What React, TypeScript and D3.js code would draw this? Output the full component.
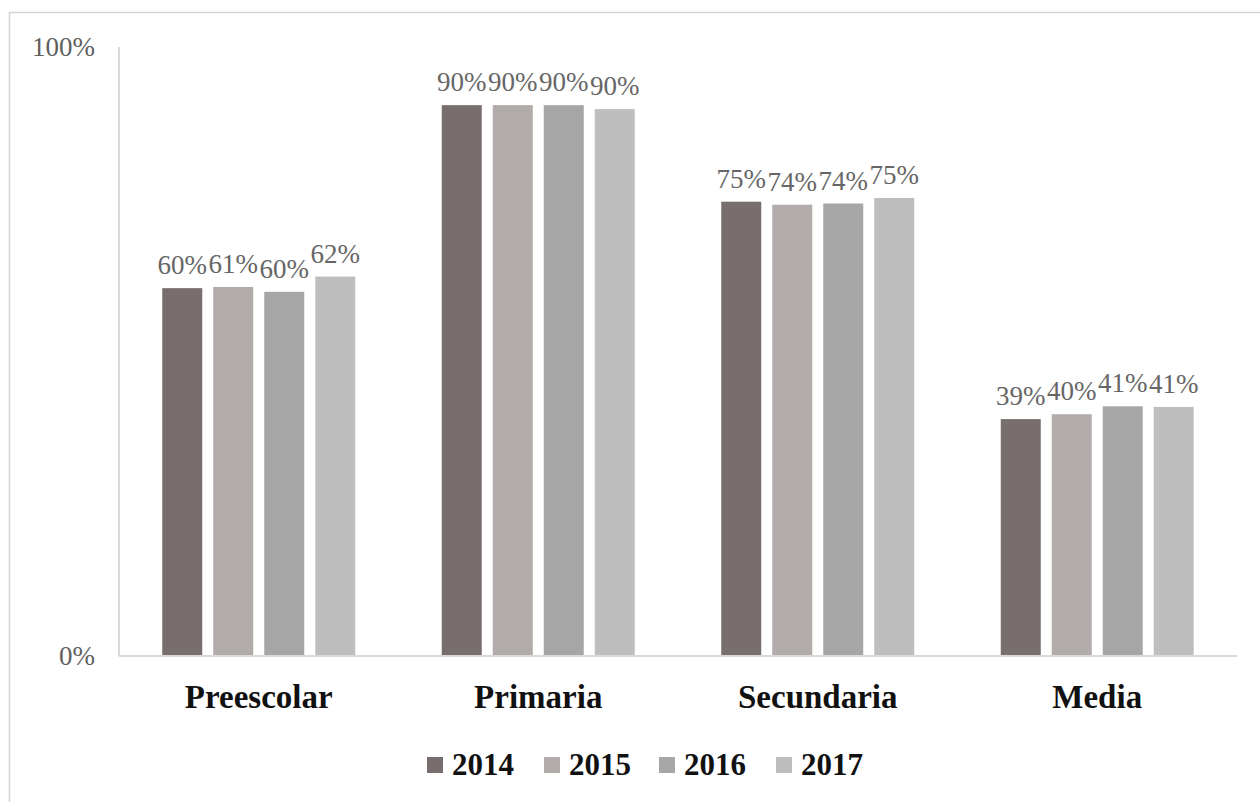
import React from "react";
import * as d3 from "d3";

const categories = ["Preescolar", "Primaria", "Secundaria", "Media"];
const years = ["2014", "2015", "2016", "2017"];
const values2014 = [0.604, 0.9045, 0.746, 0.389];
const values2015 = [0.606, 0.9045, 0.741, 0.397];
const values2016 = [0.598, 0.9045, 0.743, 0.41];
const values2017 = [0.623, 0.898, 0.752, 0.409];
const yTicks = [0, 1];
const colors = ["#786e6e", "#b1aba9", "#a6a6a6", "#bebebe"];

const seriesValues = [values2014, values2015, values2016, values2017];

const W = 1260;
const H = 802;
const left = 119;
const right = 1237;
const top = 47;
const bottom = 656;
const serif = "'Liberation Serif', 'Times New Roman', serif";

export default function App() {
  const x0 = d3
    .scaleBand<string>()
    .domain(categories)
    .range([left, right])
    .paddingInner(0.3095)
    .paddingOuter(0.3095 / 2);
  const x1 = d3
    .scaleBand<string>()
    .domain(years)
    .range([0, x0.bandwidth()])
    .paddingInner(0.2157)
    .paddingOuter(0);
  const y = d3.scaleLinear().domain([0, 1]).range([bottom, top]);
  const pct = d3.format(".0%");

  const legendX = [427, 544, 659, 776];

  return (
    <svg
      width={W}
      height={H}
      style={{ position: "absolute", left: 0, top: 0, background: "#fff" }}
    >
      <rect x={9.5} y={12.5} width={1400} height={1000} fill="#fff" stroke="#d4d4d4" strokeWidth={1.5} />

      {/* value axis */}
      <line x1={left} x2={left} y1={y(1)} y2={y(0)} stroke="#d9d9d9" strokeWidth={2} />
      {yTicks.map((t) => (
        <text
          key={t}
          x={95}
          y={y(t)}
          dy="0.35em"
          textAnchor="end"
          fontFamily={serif}
          fontSize={27}
          fill="#5f5f5f"
        >
          {pct(t)}
        </text>
      ))}

      {/* bars */}
      {categories.map((c, ci) => (
        <g key={c} transform={`translate(${x0(c)},0)`}>
          {years.map((yr, si) => {
            const v = seriesValues[si][ci];
            const bx = x1(yr)!;
            return (
              <g key={yr}>
                <rect
                  x={bx}
                  y={y(v)}
                  width={x1.bandwidth()}
                  height={y(0) - y(v)}
                  fill={colors[si]}
                />
                <text
                  x={bx + x1.bandwidth() / 2}
                  y={y(v) - 14}
                  textAnchor="middle"
                  fontFamily={serif}
                  fontSize={27}
                  fill="#666"
                >
                  {pct(v)}
                </text>
              </g>
            );
          })}
        </g>
      ))}

      {/* category axis */}
      <line x1={left} x2={right} y1={bottom} y2={bottom} stroke="#d9d9d9" strokeWidth={2} />
      {categories.map((c) => (
        <text
          key={c}
          x={x0(c)! + x0.bandwidth() / 2}
          y={708}
          textAnchor="middle"
          fontFamily={serif}
          fontWeight="bold"
          fontSize={33}
          fill="#111"
        >
          {c}
        </text>
      ))}

      {/* legend */}
      {years.map((yr, i) => (
        <g key={yr}>
          <rect x={legendX[i]} y={757} width={16} height={16} fill={colors[i]} />
          <text
            x={legendX[i] + 25}
            y={775}
            fontFamily={serif}
            fontWeight="bold"
            fontSize={31}
            fill="#111"
          >
            {yr}
          </text>
        </g>
      ))}
    </svg>
  );
}
